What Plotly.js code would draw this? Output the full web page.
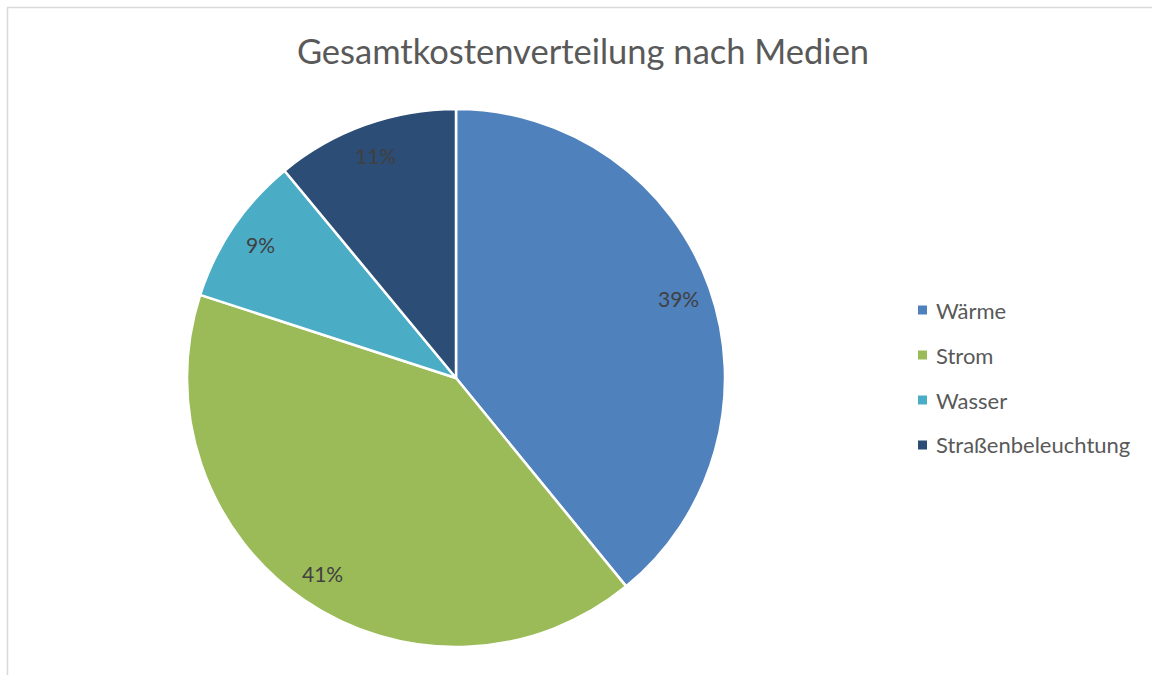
<!DOCTYPE html>
<html>
<head>
<meta charset="utf-8">
<script src="https://cdn.plot.ly/plotly-3.0.1.min.js"></script>
<style>
  html, body { margin: 0; padding: 0; background: #ffffff; }
  #chart { width: 1152px; height: 675px; }
</style>
</head>
<body>
<div id="chart"></div>
<script>
// ---- data ----
const categories = ["Wärme", "Strom", "Wasser", "Straßenbeleuchtung"];
const values = [39.1, 40.9, 9.0, 11.0];
const percentLabels = ["39%", "41%", "9%", "11%"];
const colors = ["#4F81BD", "#9BBB59", "#4BACC6", "#2C4D75"];

// ---- geometry / style ----
const W = 1152, H = 675;
const cx = 456, cy = 378, R = 269;      // pie centre and radius (px)
const labelR = 0.88;                    // label distance as fraction of radius
const legendX = 918, legendY0 = 310, legendDy = 45, sq = 9;
const FONT = "Lato, 'Open Sans', sans-serif";

const domain = {
  x: [(cx - R) / W, (cx + R) / W],
  y: [1 - (cy + R) / H, 1 - (cy - R) / H]
};

const trace = {
  type: "pie",
  labels: categories,
  values: values,
  sort: false,
  direction: "clockwise",
  rotation: 0,
  domain: domain,
  marker: { colors: colors, line: { color: "#ffffff", width: 2.5 } },
  textinfo: "none",
  hoverinfo: "label+percent",
  showlegend: false
};

// percentage labels placed at the mid-angle of each slice
const total = values.reduce((a, b) => a + b, 0);
const annotations = [];
const shapes = [];
let cum = 0;
values.forEach((v, i) => {
  const mid = (cum + v / 2) / total * 2 * Math.PI;
  cum += v;
  const px = cx + labelR * R * Math.sin(mid);
  const py = cy - labelR * R * Math.cos(mid);
  annotations.push({
    xref: "paper", yref: "paper",
    x: px / W, y: 1 - py / H,
    text: percentLabels[i], showarrow: false,
    xanchor: "center", yanchor: "middle",
    font: { family: FONT, size: 21, color: "#404040" }
  });
});

// custom legend
categories.forEach((c, i) => {
  const y = legendY0 + i * legendDy;
  shapes.push({
    type: "rect", xref: "paper", yref: "paper",
    x0: legendX / W, x1: (legendX + sq) / W,
    y0: 1 - (y + sq / 2) / H, y1: 1 - (y - sq / 2) / H,
    fillcolor: colors[i], line: { width: 0 }
  });
  annotations.push({
    xref: "paper", yref: "paper",
    x: (legendX + 16) / W, y: 1 - y / H,
    text: c, showarrow: false,
    xanchor: "left", yanchor: "middle",
    font: { family: FONT, size: 22, color: "#595959" }
  });
});

// chart frame (partially visible, like the reference)
shapes.push({
  type: "rect", xref: "paper", yref: "paper",
  x0: 7.5 / W, x1: 1.05, y0: -0.05, y1: 1 - 7.5 / H,
  line: { color: "#D9D9D9", width: 1.5 }, fillcolor: "rgba(0,0,0,0)"
});

const layout = {
  width: W, height: H,
  margin: { l: 0, r: 0, t: 0, b: 0 },
  paper_bgcolor: "#ffffff",
  plot_bgcolor: "#ffffff",
  showlegend: false,
  title: {
    text: "Gesamtkostenverteilung nach Medien",
    x: 583 / W, xanchor: "center",
    y: 1 - 52 / H, yanchor: "middle",
    yref: "container", xref: "container",
    font: { family: FONT, size: 34.5, color: "#595959" }
  },
  annotations: annotations,
  shapes: shapes
};

Plotly.newPlot("chart", [trace], layout, { displayModeBar: false, staticPlot: true });
</script>
</body>
</html>
